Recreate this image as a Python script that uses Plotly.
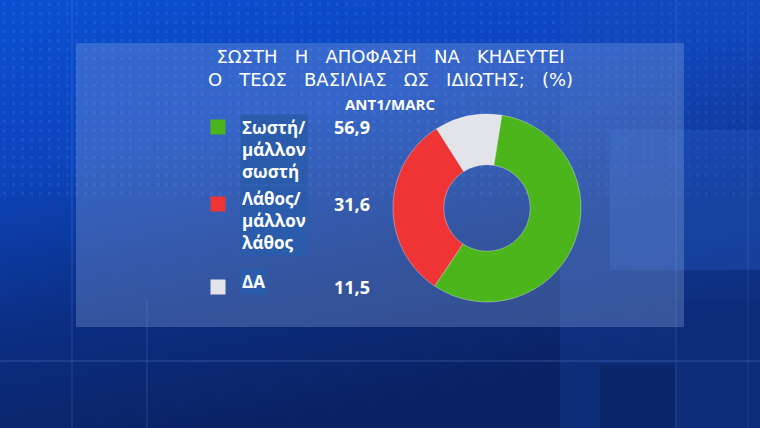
import base64
import plotly.graph_objects as go

# ---------------- data ----------------
categories = ["Σωστή/ μάλλον σωστή", "Λάθος/ μάλλον λάθος", "ΔΑ"]
label_lines = [["Σωστή/", "μάλλον", "σωστή"], ["Λάθος/", "μάλλον", "λάθος"], ["ΔΑ"]]
values = [56.9, 31.6, 11.5]
value_labels = ["56,9", "31,6", "11,5"]
colors = ["#4cb51b", "#ee3434", "#e3e4ea"]

title_lines = ["ΣΩΣΤΗ   Η   ΑΠΟΦΑΣΗ   ΝΑ   ΚΗΔΕΥΤΕΙ",
               "Ο   ΤΕΩΣ   ΒΑΣΙΛΙΑΣ   ΩΣ   ΙΔΙΩΤΗΣ;   (%)"]
source = "ANT1/MARC"

# ---------------- layout helpers (pixel positions) ----------------
W, H = 760, 428
row_y = [127, 204, 287]          # legend row centres
label_top = [114, 185, 268]
square_x = 218
label_x = 240
value_x = 352

FONT = "Open Sans"

# background as an inline SVG image (gradient + dot pattern + light grid lines)
svg = f'''<svg xmlns="http://www.w3.org/2000/svg" width="{W}" height="{H}" viewBox="0 0 {W} {H}">
<defs>
<linearGradient id="g" x1="0" y1="0" x2="0.35" y2="1">
<stop offset="0" stop-color="#0b4fd2"/>
<stop offset="0.35" stop-color="#0c45bd"/>
<stop offset="0.7" stop-color="#0b2e82"/>
<stop offset="1" stop-color="#0a2262"/>
</linearGradient>
<pattern id="p" width="9" height="9" patternUnits="userSpaceOnUse">
<rect x="3" y="3" width="3" height="3" fill="#7fa8ff" opacity="0.12"/>
</pattern>
</defs>
<rect width="{W}" height="{H}" fill="url(#g)"/>
<rect x="0" y="0" width="{W}" height="200" fill="url(#p)"/>
<rect x="560" y="0" width="200" height="428" fill="#1b4fbf" opacity="0.25"/>
<rect x="610" y="130" width="150" height="140" fill="#2a63d0" opacity="0.3"/>
<rect x="600" y="365" width="75" height="63" fill="#071d5a" opacity="0.5"/>
<rect x="675" y="300" width="85" height="65" fill="#0a2a78" opacity="0.5"/>
<line x1="0" y1="361" x2="{W}" y2="361" stroke="#8fb4ff" stroke-opacity="0.3"/>
<line x1="72" y1="0" x2="72" y2="{H}" stroke="#8fb4ff" stroke-opacity="0.22"/>
<line x1="147" y1="300" x2="147" y2="{H}" stroke="#8fb4ff" stroke-opacity="0.22"/>
<line x1="676" y1="0" x2="676" y2="{H}" stroke="#8fb4ff" stroke-opacity="0.2"/>
<line x1="748" y1="0" x2="748" y2="{H}" stroke="#8fb4ff" stroke-opacity="0.15"/>
</svg>'''
bg_src = "data:image/svg+xml;base64," + base64.b64encode(svg.encode("utf-8")).decode()

fig = go.Figure()

# donut
cx, cy, r = 487, 208, 94
fig.add_trace(go.Pie(
    labels=categories, values=values, sort=False, direction="clockwise",
    rotation=9, hole=0.46, textinfo="none", hoverinfo="label+value",
    marker=dict(colors=colors, line=dict(color="rgba(255,255,255,0.35)", width=1)),
    domain=dict(x=[(cx - r) / W, (cx + r) / W], y=[1 - (cy + r) / H, 1 - (cy - r) / H]),
    showlegend=False,
))

# legend squares on an overlay pixel axis
fig.add_trace(go.Scatter(
    x=[square_x] * len(categories), y=row_y, mode="markers",
    marker=dict(symbol="square", size=15, color=colors, line=dict(width=0)),
    xaxis="x", yaxis="y", hoverinfo="skip", showlegend=False,
))

annotations = []
for i, lines in enumerate(label_lines):
    annotations.append(dict(
        x=label_x, y=label_top[i], xref="x", yref="y", xanchor="left", yanchor="top",
        text="<br>".join(lines), showarrow=False, align="left",
        font=dict(family=FONT, size=17, color="white", weight=700),
        bgcolor="#2b5cab", borderpad=1,
    ))
    annotations.append(dict(
        x=value_x, y=row_y[i], xref="x", yref="y", xanchor="center", yanchor="middle",
        text=value_labels[i], showarrow=False,
        font=dict(family=FONT, size=18, color="white", weight=700),
    ))

annotations.append(dict(
    x=390, y=68, xref="x", yref="y", xanchor="center", yanchor="middle",
    text="<br>".join(title_lines), showarrow=False, align="center",
    font=dict(family="DejaVu Sans", size=18, color="white"),
))
annotations.append(dict(
    x=390, y=104, xref="x", yref="y", xanchor="center", yanchor="middle",
    text=source, showarrow=False,
    font=dict(family=FONT, size=15, color="white", weight=700),
))

fig.update_layout(
    width=W, height=H, margin=dict(l=0, r=0, t=0, b=0),
    paper_bgcolor="#0c3a9c", plot_bgcolor="rgba(0,0,0,0)",
    xaxis=dict(range=[0, W], domain=[0, 1], visible=False, fixedrange=True),
    yaxis=dict(range=[H, 0], domain=[0, 1], visible=False, fixedrange=True),
    images=[dict(source=bg_src, xref="paper", yref="paper", x=0, y=1, sizex=1, sizey=1,
                 xanchor="left", yanchor="top", sizing="stretch", layer="below")],
    shapes=[dict(type="rect", xref="x", yref="y", x0=76, x1=684, y0=43, y1=327,
                 fillcolor="rgba(150,175,225,0.30)", line=dict(width=0), layer="below")],
    annotations=annotations,
)

fig.write_html("out.html", config={"displayModeBar": False},
               post_script="document.body.style.margin='0';")
